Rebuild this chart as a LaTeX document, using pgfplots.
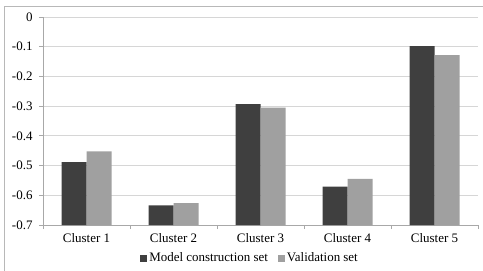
\documentclass[border=0pt]{standalone}
\usepackage{pgfplots}
\pgfplotsset{compat=1.18}
\usepackage{fontspec}
\setmainfont{Liberation Serif}
\definecolor{darkbar}{HTML}{3F3F3F}
\definecolor{lightbar}{HTML}{A0A0A0}
\definecolor{gridc}{HTML}{D6D6D6}
\definecolor{axisc}{HTML}{A8A8A8}
\definecolor{framec}{HTML}{B8B8B8}
\begin{document}
\begin{tikzpicture}[x=1bp,y=1bp]
\useasboundingbox (-43,-45) rectangle (440,225);
\draw[framec, line width=1bp] (-38,-46) -- (-38,218) -- (441,218);
\begin{axis}[
  at={(0,0)}, anchor=south west,
  scale only axis, width=435bp, height=208bp,
  ybar=0pt, bar width=25bp,
  xmin=-0.5, xmax=4.5, ymin=0, ymax=0.7,
  y filter/.expression={y+0.7},
  xtick={0,1,2,3,4},
  xticklabels={Cluster 1,Cluster 2,Cluster 3,Cluster 4,Cluster 5},
  major x tick style={draw=none},
  minor xtick={-0.5,0.5,1.5,2.5,3.5,4.5},
  minor tick length=4bp,
  minor x tick style={axisc, line width=0.8bp},
  ytick={0,0.1,0.2,0.3,0.4,0.5,0.6,0.7},
  yticklabels={-0.7,-0.6,-0.5,-0.4,-0.3,-0.2,-0.1,0},
  tick align=outside, major tick length=4bp,
  y tick style={axisc, line width=0.8bp},
  xtick pos=bottom, ytick pos=left,
  axis x line*=bottom, axis y line*=left,
  axis line style={axisc, line width=0.8bp, -},
  ymajorgrids, grid style={gridc, line width=1bp},
  tick label style={font=\fontsize{13}{15}\selectfont, text=black},
  yticklabel style={xshift=-3bp},
  xticklabel style={yshift=-1bp},
  legend style={at={(0.476,-0.159)}, anchor=center, draw=none, fill=none,
    legend columns=2, font=\fontsize{13}{15}\selectfont,
    /tikz/every even column/.append style={column sep=8bp}},
  legend image code/.code={\fill[#1] (0bp,-3.5bp) rectangle (7bp,3.5bp);},
]
\addplot[fill=darkbar, draw=none] coordinates {(0,-0.488) (1,-0.634) (2,-0.293) (3,-0.571) (4,-0.098)};
\addplot[fill=lightbar, draw=none] coordinates {(0,-0.452) (1,-0.626) (2,-0.305) (3,-0.545) (4,-0.128)};
\legend{Model construction set, Validation set}
\end{axis}
\end{tikzpicture}
\end{document}
